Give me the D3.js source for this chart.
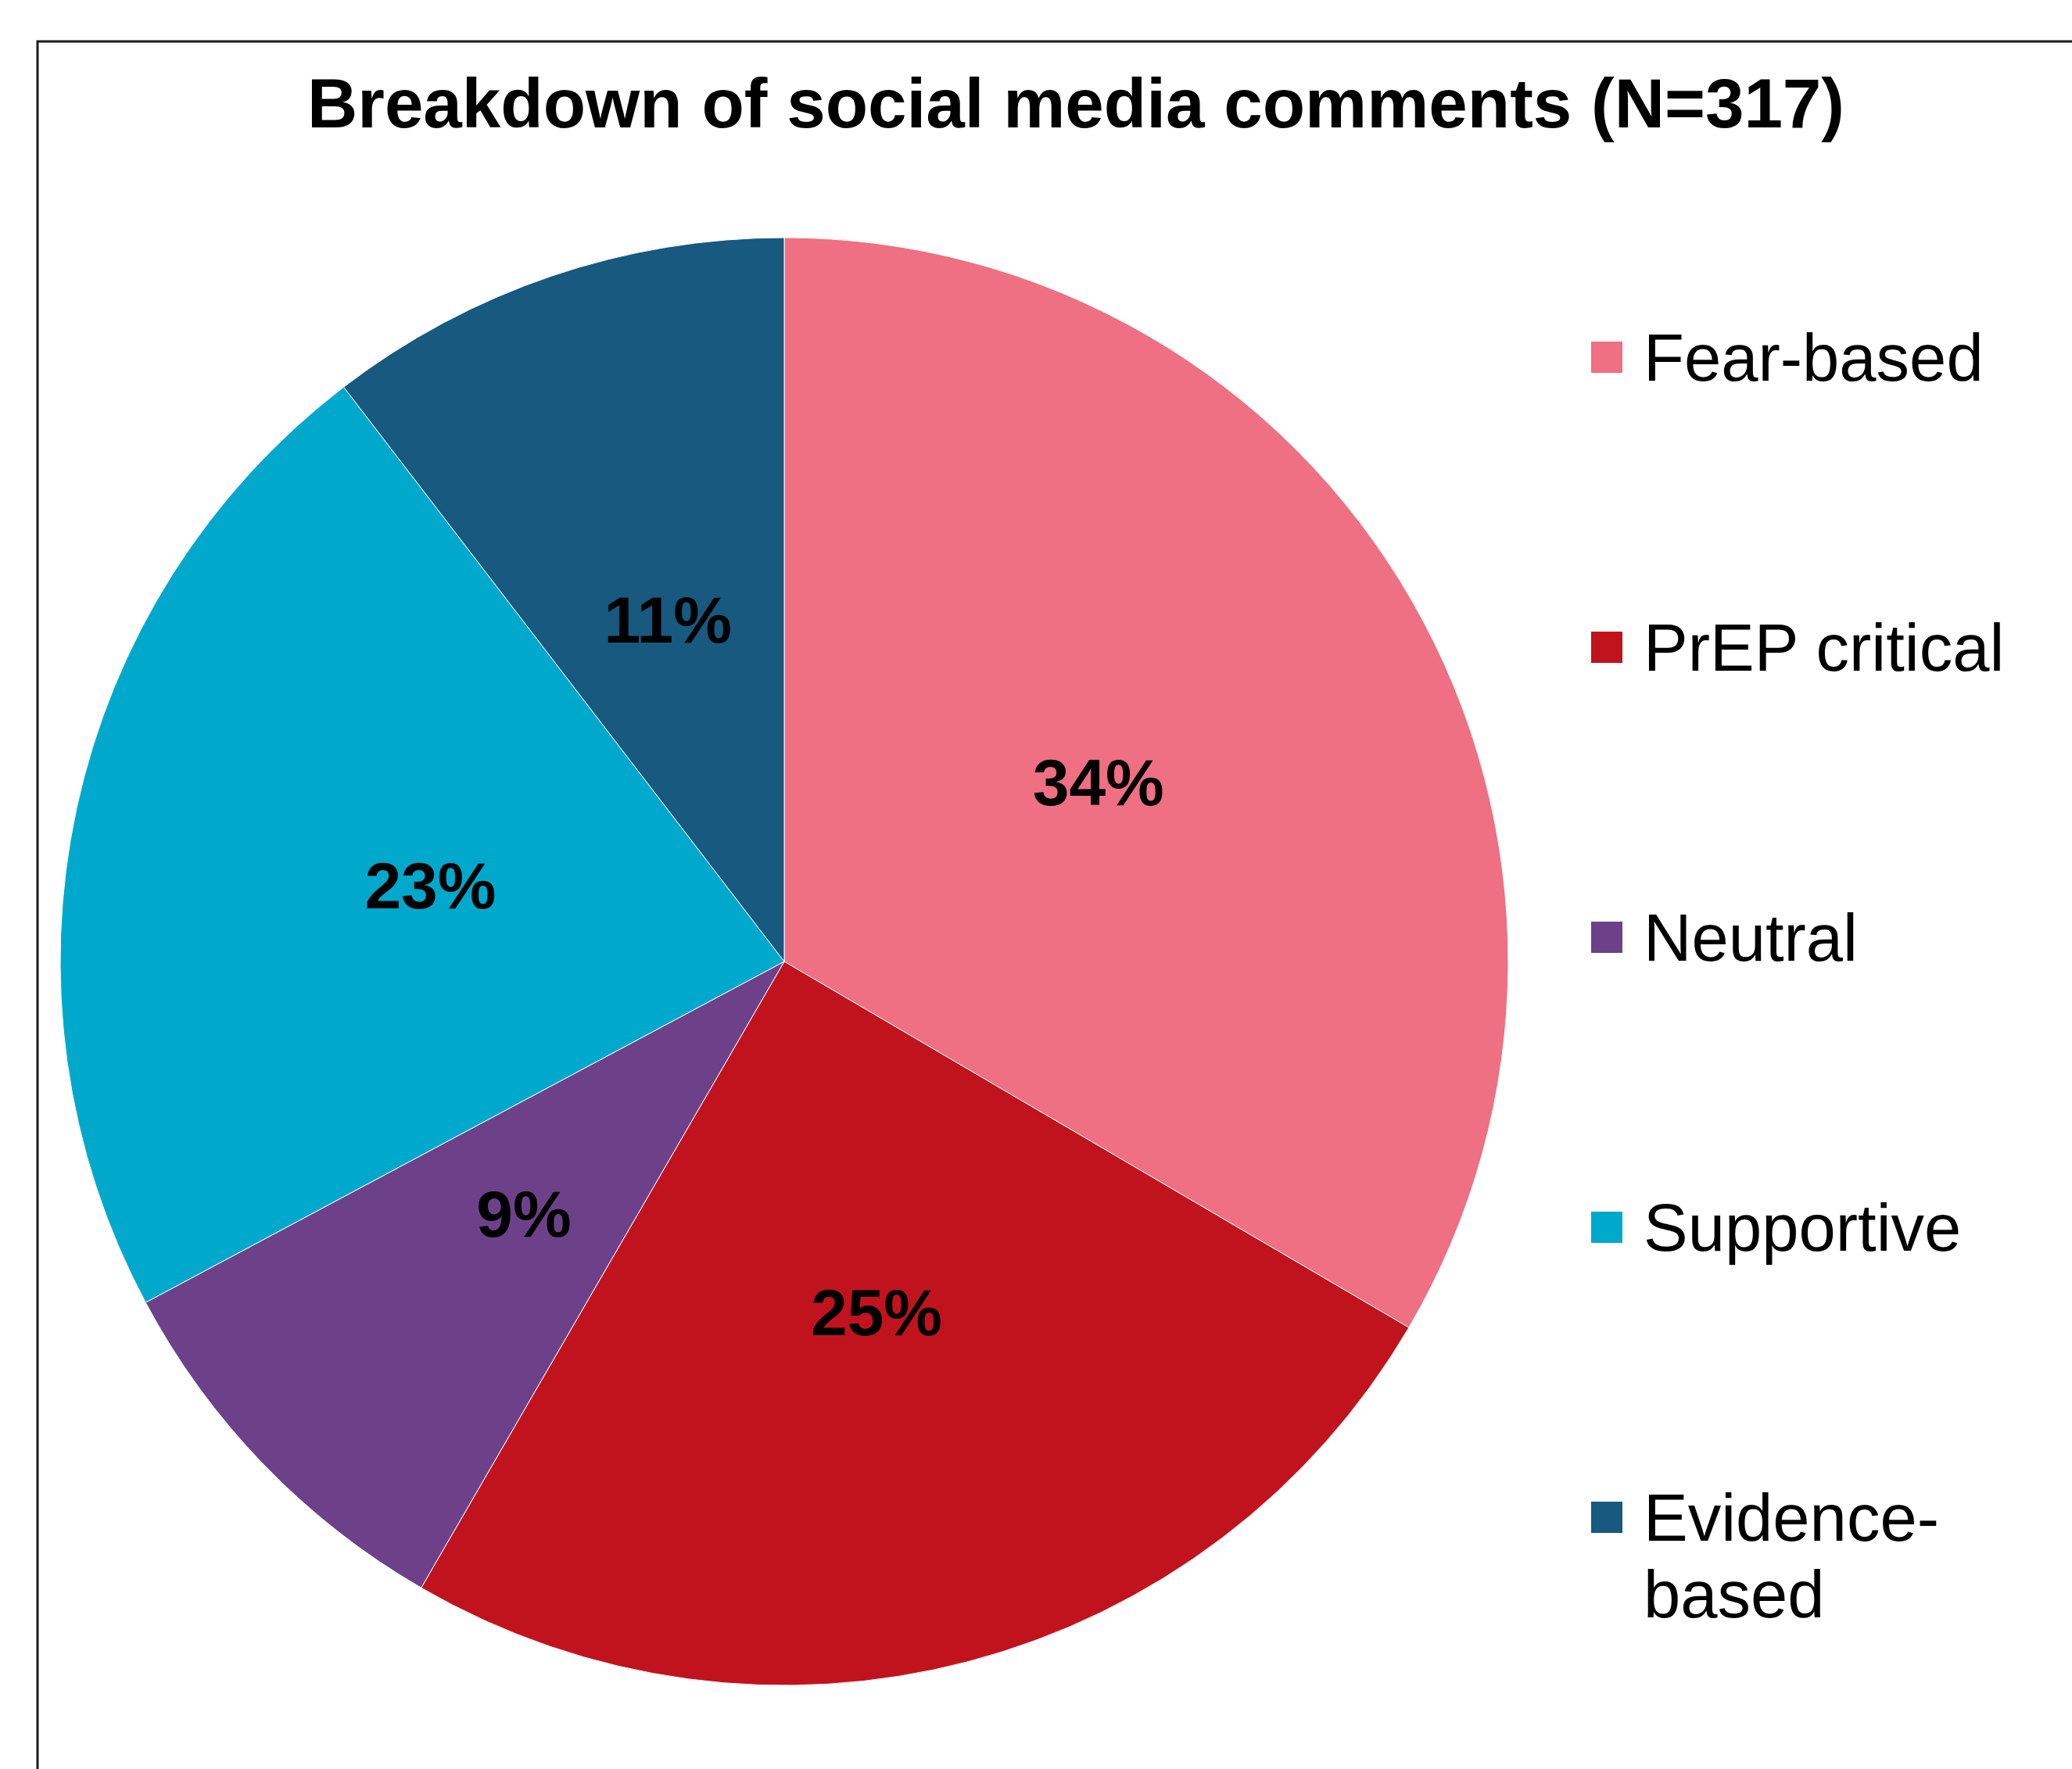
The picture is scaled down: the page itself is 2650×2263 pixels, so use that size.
<!DOCTYPE html>
<html>
<head>
<meta charset="utf-8">
<script src="https://cdn.jsdelivr.net/npm/d3@7"></script>
<style>
  html, body { margin: 0; padding: 0; background: #fff; }
  svg { display: block; font-family: "Liberation Sans", Arial, sans-serif; }
</style>
</head>
<body>
<div id="chart"></div>
<script>
// Breakdown of social media comments (N=317)
const categories = ['Fear-based', 'PrEP critical', 'Neutral', 'Supportive', 'Evidence-based'];
const counts = [106, 79, 28, 71, 33];
const pctLabels = ['34%', '25%', '9%', '23%', '11%'];
const legendLines = [['Fear-based'], ['PrEP critical'], ['Neutral'], ['Supportive'], ['Evidence-', 'based']];
const colors = ['#EF6F83', '#C1131E', '#6D418A', '#00A9CC', '#17597F'];

const width = 2650, height = 2263;
const cx = 1003, cy = 1230, radius = 926;

const svg = d3.select('#chart')
    .append('svg')
    .attr('width', width)
    .attr('height', height);

// Frame (runs off the right and bottom edges)
svg.append('rect')
    .attr('x', 48)
    .attr('y', 53)
    .attr('width', width)
    .attr('height', height)
    .attr('fill', 'none')
    .attr('stroke', '#1a1a1a')
    .attr('stroke-width', 3);

// Title
svg.append('text')
    .attr('x', 1376)
    .attr('y', 163)
    .attr('text-anchor', 'middle')
    .style('font-size', '89px')
    .style('font-weight', 'bold')
    .text('Breakdown of social media comments (N=317)');

// Pie
const pie = d3.pie().sort(null).value(d => d);
const arc = d3.arc().innerRadius(0).outerRadius(radius);
const arcs = pie(counts);

const g = svg.append('g')
    .attr('transform', `translate(${cx},${cy})`);

g.selectAll('path.slice')
    .data(arcs)
    .enter()
    .append('path')
    .attr('class', 'slice')
    .attr('d', arc)
    .attr('fill', (d, i) => colors[i])
    .attr('stroke', '#fff')
    .attr('stroke-width', 1);

g.selectAll('text.pct')
    .data(arcs)
    .enter()
    .append('text')
    .attr('class', 'pct')
    .attr('transform', d => `translate(${arc.centroid(d)})`)
    .attr('text-anchor', 'middle')
    .attr('dy', '0.36em')
    .style('font-size', '84px')
    .style('font-weight', 'bold')
    .text((d, i) => pctLabels[i]);

// Legend
const legendX = 2035, legendTop = 487, legendStep = 371, lineH = 98;

const legend = svg.append('g').attr('class', 'legend');

const items = legend.selectAll('g.item')
    .data(categories)
    .enter()
    .append('g')
    .attr('class', 'item')
    .attr('transform', (d, i) => `translate(${legendX},${legendTop + i * legendStep})`);

items.append('rect')
    .attr('x', 0)
    .attr('y', -50)
    .attr('width', 40)
    .attr('height', 40)
    .attr('fill', (d, i) => colors[i]);

items.append('text')
    .attr('x', 67)
    .attr('y', 0)
    .style('font-size', '85px')
    .each(function(d, i) {
        const t = d3.select(this);
        legendLines[i].forEach((line, j) => {
            t.append('tspan')
                .attr('x', 67)
                .attr('y', j * lineH)
                .text(line);
        });
    });
</script>
</body>
</html>
